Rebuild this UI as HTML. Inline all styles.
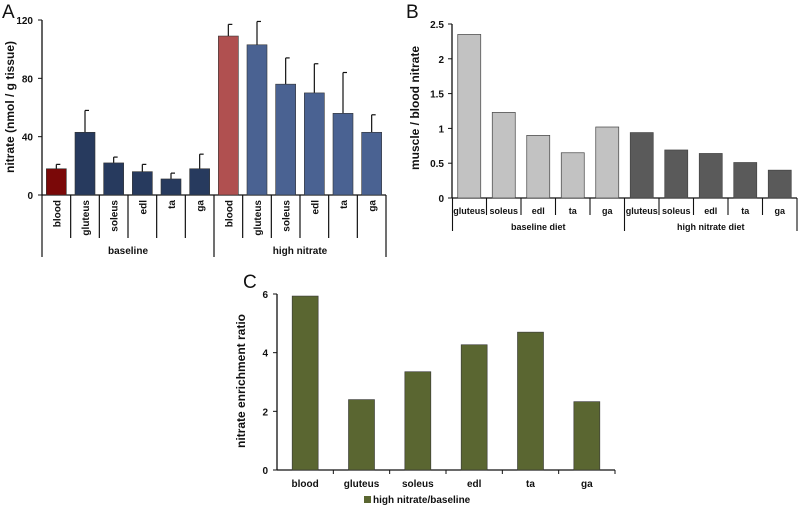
<!DOCTYPE html>
<html><head><meta charset="utf-8"><style>
body{margin:0;background:#fff}
svg text{font-family:"Liberation Sans",Arial,sans-serif;font-weight:bold;fill:#111}
</style></head><body>
<svg id="s" width="800" height="509" viewBox="0 0 800 509" xmlns="http://www.w3.org/2000/svg">
<text x="2" y="18" font-size="19" style="font-weight:normal">A</text>
<text x="406" y="18" font-size="19" style="font-weight:normal">B</text>
<text x="243" y="288" font-size="19" style="font-weight:normal">C</text>
<g id="ga"></g>
<g id="gb"></g>
<g id="gc"></g>
</svg>
<script>
const aCats=["blood","gluteus","soleus","edl","ta","ga","blood","gluteus","soleus","edl","ta","ga"];
const aVals=[18,43,22,16,11,18,109,103,76,70,56,43];
const aErrTop=[21,58,26,21,15,28,117,119,94,90,84,55];
const aTicks=[0,40,80,120];
const aGroups=["baseline","high nitrate"];
const bCats=["gluteus","soleus","edl","ta","ga","gluteus","soleus","edl","ta","ga"];
const bVals=[2.35,1.23,0.9,0.65,1.02,0.94,0.69,0.64,0.51,0.4];
const bTicks=[0,0.5,1,1.5,2,2.5];
const bGroups=["baseline diet","high nitrate diet"];
const cCats=["blood","gluteus","soleus","edl","ta","ga"];
const cVals=[5.93,2.4,3.35,4.27,4.7,2.33];
const cTicks=[0,2,4,6];
const NS="http://www.w3.org/2000/svg";
function mk(p,t,a,txt){const e=document.createElementNS(NS,t);for(const k in a)e.setAttribute(k,a[k]);if(txt!==undefined)e.textContent=txt;p.appendChild(e);return e;}
// Chart A
(function(){
const g=document.getElementById('ga');
const x0=42,x1=386,y0=195,yt=20,max=120,cw=(x1-x0)/aCats.length;
const ys=v=>y0-(v/max)*(y0-yt);
mk(g,'line',{x1:x0,y1:yt,x2:x0,y2:y0,stroke:'#111','stroke-width':1.3});
mk(g,'line',{x1:x0,y1:y0,x2:x1,y2:y0,stroke:'#111','stroke-width':1.3});
aTicks.forEach(t=>{mk(g,'line',{x1:x0-4,y1:ys(t),x2:x0,y2:ys(t),stroke:'#111'});
const e=mk(g,'text',{x:x0-9,y:ys(t)+4,'font-size':10,'text-anchor':'end'},t);

});
const yl=mk(g,'text',{transform:'translate(14,107) rotate(-90)','font-size':12,'text-anchor':'middle'},'nitrate (nmol / g tissue)');


aCats.forEach((c,i)=>{
const cx=x0+cw*(i+0.5),bw=20,hi=i>=6;
const fill=i==0?'#7a0808':i==6?'#b05050':hi?'#4a6292':'#273a5e';
mk(g,'line',{x1:cx,y1:ys(aVals[i]),x2:cx,y2:ys(aErrTop[i]),stroke:'#111','stroke-width':1.2});
mk(g,'line',{x1:cx,y1:ys(aErrTop[i]),x2:cx+4,y2:ys(aErrTop[i]),stroke:'#111','stroke-width':1.2});
const r=mk(g,'rect',{x:cx-bw/2,y:ys(aVals[i]),width:bw,height:y0-ys(aVals[i]),fill:fill,stroke:'#333','stroke-width':0.6});


const t=mk(g,'text',{transform:`translate(${cx+4},200) rotate(-90)`,'font-size':10,'text-anchor':'end'},c);


mk(g,'line',{x1:x0+cw*(i+1),y1:y0,x2:x0+cw*(i+1),y2:i==5||i==11?257:238,stroke:'#111','stroke-width':1.2});
});
mk(g,'line',{x1:x0,y1:y0,x2:x0,y2:257,stroke:'#111','stroke-width':1.2});
aGroups.forEach((n,j)=>{const e=mk(g,'text',{x:x0+cw*(6*j+3),y:254,'font-size':10,'text-anchor':'middle'},n);

});
})();
// Chart B
(function(){
const g=document.getElementById('gb');
const x0=452,x1=797,y0=198,yt=24,max=2.5,cw=(x1-x0)/bCats.length;
const ys=v=>y0-(v/max)*(y0-yt);
mk(g,'line',{x1:x0,y1:yt,x2:x0,y2:y0,stroke:'#111','stroke-width':1.3});
mk(g,'line',{x1:x0,y1:y0,x2:x1,y2:y0,stroke:'#111','stroke-width':1.3});
bTicks.forEach(t=>{mk(g,'line',{x1:x0-4,y1:ys(t),x2:x0,y2:ys(t),stroke:'#111'});
const e=mk(g,'text',{x:x0-8,y:ys(t)+4,'font-size':10,'text-anchor':'end'},t);

});
const yl=mk(g,'text',{transform:'translate(419,108) rotate(-90)','font-size':12,'text-anchor':'middle'},'muscle / blood nitrate');


bCats.forEach((c,i)=>{
const cx=x0+cw*(i+0.5),bw=23,hi=i>=5;
const r=mk(g,'rect',{x:cx-bw/2,y:ys(bVals[i]),width:bw,height:y0-ys(bVals[i]),fill:hi?'#5a5a5a':'#c2c2c2',stroke:'#444','stroke-width':0.7});


const t=mk(g,'text',{x:cx,y:214,'font-size':9,'text-anchor':'middle'},c);


mk(g,'line',{x1:x0+cw*(i+1),y1:y0,x2:x0+cw*(i+1),y2:i==4||i==9?231:215,stroke:'#111','stroke-width':1.1});
});
mk(g,'line',{x1:x0+0.5,y1:y0,x2:x0+0.5,y2:231,stroke:'#111','stroke-width':1.1});
bGroups.forEach((n,j)=>{const e=mk(g,'text',{x:x0+cw*(5*j+2.5),y:230,'font-size':9,'text-anchor':'middle'},n);

});
})();
// Chart C
(function(){
const g=document.getElementById('gc');
const x0=277,x1=615,y0=470,yt=294,max=6,cw=(x1-x0)/cCats.length;
const ys=v=>y0-(v/max)*(y0-yt);
mk(g,'line',{x1:x0,y1:yt,x2:x0,y2:y0,stroke:'#111','stroke-width':1.3});
mk(g,'line',{x1:x0,y1:y0,x2:x1,y2:y0,stroke:'#111','stroke-width':1.3});
cTicks.forEach(t=>{mk(g,'line',{x1:x0-4,y1:ys(t),x2:x0,y2:ys(t),stroke:'#111'});
const e=mk(g,'text',{x:x0-9,y:ys(t)+4,'font-size':10,'text-anchor':'end'},t);

});
const yl=mk(g,'text',{transform:'translate(245,381) rotate(-90)','font-size':12,'text-anchor':'middle'},'nitrate enrichment ratio');


cCats.forEach((c,i)=>{
const cx=x0+cw*(i+0.5),bw=26;
mk(g,'line',{x1:x0+cw*(i+1),y1:y0,x2:x0+cw*(i+1),y2:y0+4,stroke:'#111'});
const r=mk(g,'rect',{x:cx-bw/2,y:ys(cVals[i]),width:bw,height:y0-ys(cVals[i]),fill:'#5a6631',stroke:'#333','stroke-width':0.6});


const t=mk(g,'text',{x:cx,y:487,'font-size':10,'text-anchor':'middle'},c);


});
const lg=mk(g,'g',{});


mk(lg,'rect',{x:364,y:496,width:7,height:7,fill:'#5a6631'});
mk(lg,'text',{x:373,y:503,'font-size':10},'high nitrate/baseline');
})();
</script>
</body></html>
